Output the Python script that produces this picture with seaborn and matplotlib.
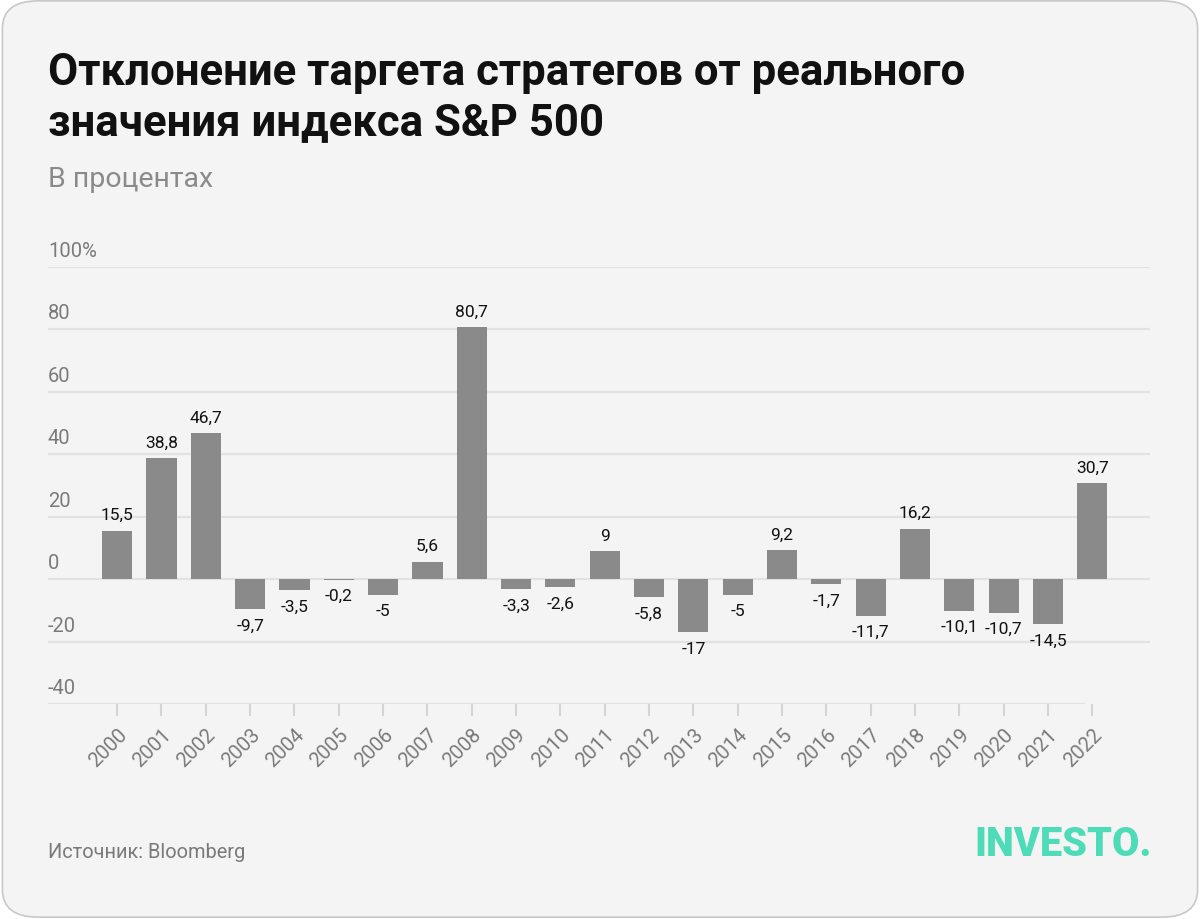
import matplotlib
matplotlib.use('Agg')
import matplotlib.pyplot as plt
import matplotlib.transforms as mtransforms
from matplotlib.patches import FancyBboxPatch
import pandas as pd
import seaborn as sns

# --- data ---
years = [str(y) for y in range(2000, 2023)]
deviation = [15.5, 38.8, 46.7, -9.7, -3.5, -0.2, -5, 5.6, 80.7, -3.3, -2.6, 9,
             -5.8, -17, -5, 9.2, -1.7, -11.7, 16.2, -10.1, -10.7, -14.5, 30.7]
y_ticks = [-40, -20, 0, 20, 40, 60, 80, 100]
y_tick_labels = ['-40', '-20', '0', '20', '40', '60', '80', '100%']

title = 'Отклонение таргета стратегов от реального\nзначения индекса S&P 500'
subtitle = 'В процентах'
source = 'Источник: Bloomberg'

df = pd.DataFrame({'year': years, 'value': deviation})

sns.set_theme(style='white')
plt.rcParams['font.family'] = ['Roboto', 'DejaVu Sans']

BG = '#f4f4f4'
BAR = '#8a8a8a'
GRID = '#e2e2e2'
TICK_TXT = '#7a7a7a'

fig = plt.figure(figsize=(12, 9.2), dpi=100, facecolor='white')
card = FancyBboxPatch((0.002, 0.002), 0.996, 0.996,
                      boxstyle='round,pad=0,rounding_size=0.03',
                      transform=fig.transFigure, facecolor=BG,
                      edgecolor='#c8c8c8', linewidth=1.2, zorder=-10)
fig.patches.append(card)

ax = fig.add_axes([0.04, 0.2337, 0.9183, 0.475])
ax.set_facecolor('none')

sns.barplot(data=df, x='year', y='value', color=BAR, width=0.68,
            saturation=1, linewidth=0, ax=ax, zorder=3)

ax.set_xlim(-1.56, 23.3)
ax.set_ylim(-40, 100)

# gridlines
for t in y_ticks:
    xmax = 0.94 if t == -40 else 1.0
    ax.axhline(t, xmin=0, xmax=xmax, color=GRID, linewidth=1.6, zorder=1)

for s in ax.spines.values():
    s.set_visible(False)

# y labels sit above the gridlines, left aligned
trans = mtransforms.blended_transform_factory(ax.transAxes, ax.transData)
offset = mtransforms.ScaledTranslation(0, 5 / 72, fig.dpi_scale_trans)
for t, lab in zip(y_ticks, y_tick_labels):
    ax.text(0, t, lab, transform=trans + offset, ha='left', va='bottom',
            fontsize=14.5, color=TICK_TXT)
ax.set_yticks([])

# x ticks
ax.tick_params(axis='x', which='both', bottom=True, length=8.5, width=1.5,
               color='#d4d4d4', pad=6)
ax.set_xticks(range(len(years)))
ax.set_xticklabels(years, rotation=45, ha='right', rotation_mode='anchor',
                   fontsize=14.5, color=TICK_TXT)
ax.set_xlabel('')
ax.set_ylabel('')

# value labels
for i, v in enumerate(deviation):
    lab = f'{v:g}'.replace('.', ',')
    dy = 11.5 if v >= 0 else -11.5
    ax.annotate(lab, (i, v), xytext=(0, dy), textcoords='offset points',
                ha='center', va='center', fontsize=12.5, color='#111111',
                zorder=4)

# titles
fig.text(0.04, 0.943, title, ha='left', va='top', fontsize=31.5,
         fontweight='bold', color='#111111', linespacing=1.22)
fig.text(0.04, 0.805, subtitle, ha='left', va='center', fontsize=20.5,
         color='#8a8a8a')
fig.text(0.04, 0.073, source, ha='left', va='center', fontsize=14.4,
         color='#7a7a7a')
fig.text(0.96, 0.082, 'INVESTO.', ha='right', va='center', fontsize=28.5,
         fontweight='heavy', color='#4ddbb8')

fig.savefig('out.png', dpi=100, facecolor=fig.get_facecolor())
